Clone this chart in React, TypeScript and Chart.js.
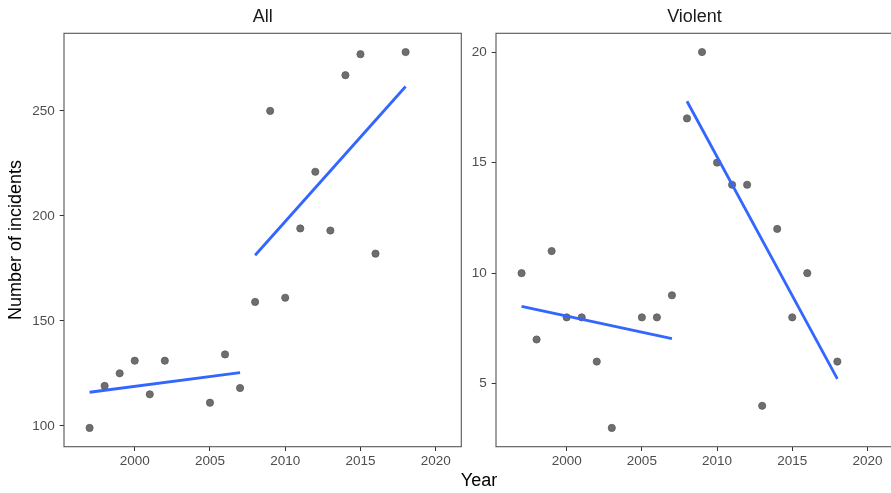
import { useEffect, useRef } from "react";
import { Chart, registerables } from "chart.js";

Chart.register(...registerables);

// Incident counts per year
const allYears = [1997, 1998, 1999, 2000, 2001, 2002, 2005, 2006, 2007, 2008, 2009, 2010, 2011, 2012, 2013, 2014, 2015, 2016, 2018];
const allCounts = [99, 119, 125, 131, 115, 131, 111, 134, 118, 159, 250, 161, 194, 221, 193, 267, 277, 182, 278];

const violentYears = [1997, 1998, 1999, 2000, 2001, 2002, 2003, 2005, 2006, 2007, 2008, 2009, 2010, 2011, 2012, 2013, 2014, 2015, 2016, 2018];
const violentCounts = [10, 7, 11, 8, 8, 6, 3, 8, 8, 9, 17, 20, 15, 14, 14, 4, 12, 8, 10, 6];

// Trend lines are fitted separately before and from this year on
const breakYear = 2008;

// Tick labels
const yearTicks = [2000, 2005, 2010, 2015, 2020];
const allTicks = [100, 150, 200, 250];
const violentTicks = [5, 10, 15, 20];

const X_MIN = 1995.3;
const X_MAX = 2021.7;

const FONT = "'Liberation Sans', Arial, Helvetica, sans-serif";
const FIG_H = 493;

type Pt = { x: number; y: number };

// Ordinary least-squares line across the span of the given points
function fitSegment(pts: Pt[]): Pt[] {
  const n = pts.length;
  const mx = pts.reduce((s, p) => s + p.x, 0) / n;
  const my = pts.reduce((s, p) => s + p.y, 0) / n;
  let sxy = 0;
  let sxx = 0;
  for (const p of pts) {
    sxy += (p.x - mx) * (p.y - my);
    sxx += (p.x - mx) * (p.x - mx);
  }
  const slope = sxy / sxx;
  const x0 = Math.min(...pts.map((p) => p.x));
  const x1 = Math.max(...pts.map((p) => p.x));
  return [
    { x: x0, y: my + slope * (x0 - mx) },
    { x: x1, y: my + slope * (x1 - mx) },
  ];
}

const framePlugin = {
  id: "panelFrame",
  afterDraw(chart: any) {
    const { ctx, chartArea } = chart;
    const { left, top, right, bottom } = chartArea;
    ctx.save();
    ctx.strokeStyle = "#555555";
    ctx.lineWidth = 1.1;
    ctx.strokeRect(left, top, right - left, bottom - top);
    ctx.restore();
  },
};

type PanelSpec = {
  title: string;
  years: number[];
  counts: number[];
  ticks: number[];
  yAxisWidth: number;
  padRight: number;
  yTitle?: string;
};

function buildConfig(p: PanelSpec): any {
  const pts: Pt[] = p.years.map((x, i) => ({ x, y: p.counts[i] }));
  const early = pts.filter((q) => q.x < breakYear);
  const late = pts.filter((q) => q.x >= breakYear);
  const lo = Math.min(...p.counts);
  const hi = Math.max(...p.counts);
  const pad = (hi - lo) * 0.05;

  const lineStyle = {
    type: "line",
    xAxisID: "x",
    yAxisID: "y",
    borderColor: "#3366FF",
    borderWidth: 2.8,
    borderCapStyle: "butt",
    pointRadius: 0,
    fill: false,
    tension: 0,
    order: 0,
  };

  const tickFont = { family: FONT, size: 13.5 };

  return {
    type: "scatter",
    data: {
      datasets: [
        {
          type: "scatter",
          xAxisID: "x",
          yAxisID: "y",
          data: pts,
          pointRadius: 3.6,
          pointBackgroundColor: "#6e6e6e",
          pointBorderColor: "#5c5c5c",
          pointBorderWidth: 0.8,
          order: 1,
        },
        { ...lineStyle, data: fitSegment(early) },
        { ...lineStyle, data: fitSegment(late) },
      ],
    },
    options: {
      responsive: false,
      animation: false,
      events: [],
      layout: { padding: { left: 0, right: p.padRight, top: 0, bottom: 0 } },
      plugins: {
        legend: { display: false },
        tooltip: { enabled: false },
        title: { display: false },
      },
      scales: {
        x: {
          type: "linear",
          position: "bottom",
          min: X_MIN,
          max: X_MAX,
          afterBuildTicks: (s: any) => {
            s.ticks = yearTicks.map((v) => ({ value: v }));
          },
          afterFit: (s: any) => {
            s.height = 46.3;
          },
          grid: {
            drawOnChartArea: false,
            drawTicks: true,
            tickLength: 4.3,
            tickColor: "#333333",
            tickWidth: 1,
          },
          border: { display: false },
          ticks: {
            padding: 2.4,
            color: "#4d4d4d",
            font: tickFont,
            maxRotation: 0,
            autoSkip: false,
            callback: (v: any) => String(v),
          },
        },
        strip: {
          type: "linear",
          axis: "x",
          position: "top",
          min: X_MIN,
          max: X_MAX,
          afterFit: (s: any) => {
            s.height = 33.3;
          },
          grid: { display: false },
          border: { display: false },
          ticks: { display: false },
          title: {
            display: true,
            text: p.title,
            color: "#1a1a1a",
            font: { family: FONT, size: 18 },
            padding: { top: 6.2, bottom: 0 },
          },
        },
        y: {
          type: "linear",
          position: "left",
          min: lo - pad,
          max: hi + pad,
          afterBuildTicks: (s: any) => {
            s.ticks = p.ticks.map((v) => ({ value: v }));
          },
          afterFit: (s: any) => {
            s.width = p.yAxisWidth;
          },
          grid: {
            drawOnChartArea: false,
            drawTicks: true,
            tickLength: 4.3,
            tickColor: "#333333",
            tickWidth: 1,
          },
          border: { display: false },
          ticks: {
            padding: 5,
            color: "#4d4d4d",
            font: tickFont,
            callback: (v: any) => String(v),
          },
          title: p.yTitle
            ? {
                display: true,
                text: p.yTitle,
                color: "#000000",
                font: { family: FONT, size: 18 },
                padding: { top: 5, bottom: 0 },
              }
            : { display: false },
        },
      },
    },
    plugins: [framePlugin],
  };
}

function Panel({ spec, left, width }: { spec: PanelSpec; left: number; width: number }) {
  const ref = useRef<HTMLCanvasElement>(null);
  useEffect(() => {
    const chart = new Chart(ref.current as HTMLCanvasElement, buildConfig(spec));
    return () => chart.destroy();
  }, []);
  return (
    <canvas
      ref={ref}
      width={width}
      height={FIG_H}
      style={{ position: "absolute", left, top: 0, width, height: FIG_H, display: "block" }}
    />
  );
}

const allPanel: PanelSpec = {
  title: "All",
  years: allYears,
  counts: allCounts,
  ticks: allTicks,
  yAxisWidth: 64,
  padRight: 8.7,
  yTitle: "Number of incidents",
};

// The right-hand panel runs a little past the figure's right edge
const violentPanel: PanelSpec = {
  title: "Violent",
  years: violentYears,
  counts: violentCounts,
  ticks: violentTicks,
  yAxisWidth: 26,
  padRight: 27,
};

export default function App() {
  return (
    <div
      style={{
        position: "fixed",
        left: 0,
        top: 0,
        width: 891,
        height: FIG_H,
        overflow: "hidden",
        background: "#ffffff",
      }}
    >
      <Panel spec={allPanel} left={0} width={470} />
      <Panel spec={violentPanel} left={470} width={450} />
      <div
        style={{
          position: "absolute",
          left: 379,
          width: 200,
          top: 471,
          textAlign: "center",
          fontFamily: FONT,
          fontSize: 18,
          lineHeight: "18px",
          color: "#000000",
        }}
      >
        Year
      </div>
    </div>
  );
}
